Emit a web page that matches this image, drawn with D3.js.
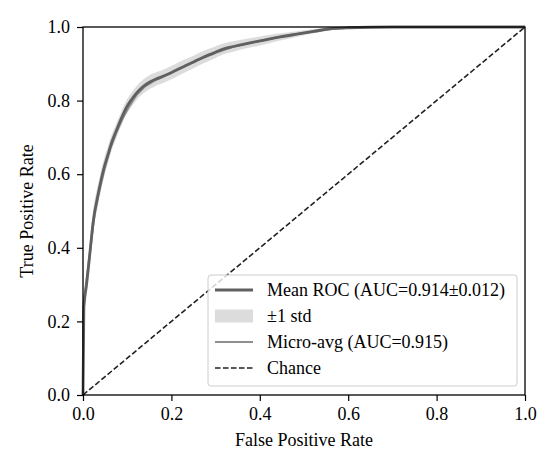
<!DOCTYPE html>
<html>
<head>
<meta charset="utf-8">
<script src="https://cdn.jsdelivr.net/npm/d3@7"></script>
<style>
  body { margin: 0; background: #fff; }
  text { font-family: "Liberation Serif", "DejaVu Serif", serif; }
</style>
</head>
<body>
<svg id="chart"></svg>
<script>
// mean ROC curve (averaged over folds)
var meanFpr = [0, 0.002, 0.008, 0.016, 0.023, 0.035, 0.046, 0.057, 0.066, 0.076, 0.088, 0.099, 0.11, 0.121, 0.136, 0.152, 0.17, 0.189, 0.208, 0.227, 0.25, 0.272, 0.295, 0.317, 0.34, 0.37, 0.4, 0.446, 0.48, 0.521, 0.566, 0.6, 0.7, 0.8, 0.9, 1.0];
var meanTpr = [0, 0.24, 0.30, 0.39, 0.47, 0.55, 0.61, 0.655, 0.69, 0.72, 0.755, 0.783, 0.803, 0.82, 0.838, 0.851, 0.861, 0.87, 0.881, 0.892, 0.905, 0.918, 0.929, 0.94, 0.947, 0.955, 0.962, 0.973, 0.98, 0.988, 0.996, 0.998, 1, 1, 1, 1];
var stdTpr  = [0, 0.035, 0.035, 0.035, 0.032, 0.028, 0.025, 0.023, 0.021, 0.02, 0.019, 0.019, 0.019, 0.019, 0.019, 0.019, 0.018, 0.018, 0.018, 0.018, 0.017, 0.017, 0.016, 0.015, 0.014, 0.013, 0.012, 0.01, 0.008, 0.006, 0.003, 0.002, 0, 0, 0, 0];

// micro-average ROC
var microFpr = [0, 0, 0.004, 0.01, 0.018, 0.026, 0.038, 0.05, 0.062, 0.076, 0.09, 0.105, 0.121, 0.14, 0.16, 0.189, 0.22, 0.26, 0.3, 0.34, 0.38, 0.44, 0.52, 0.57, 0.62, 0.7, 0.8, 0.9, 1];
var microTpr = [0, 0.22, 0.27, 0.33, 0.41, 0.49, 0.56, 0.62, 0.67, 0.715, 0.752, 0.785, 0.815, 0.838, 0.853, 0.869, 0.887, 0.91, 0.93, 0.946, 0.957, 0.972, 0.987, 0.995, 0.999, 1, 1, 1, 1];

var ticks = [0, 0.2, 0.4, 0.6, 0.8, 1.0];
var legendLabels = ["Mean ROC (AUC=0.914\u00b10.012)", "\u00b11 std", "Micro-avg (AUC=0.915)", "Chance"];

var W = 558, H = 472;
var m = {left: 83, right: 33, top: 27, bottom: 77};
var fontSize = "18px";

var svg = d3.select("#chart").attr("width", W).attr("height", H);

var x = d3.scaleLinear().domain([0, 1]).range([m.left, W - m.right]);
var y = d3.scaleLinear().domain([0, 1]).range([H - m.bottom, m.top]);

var meanPts = meanFpr.map((f, i) => ({f: f, t: meanTpr[i], s: stdTpr[i]}));
var microPts = microFpr.map((f, i) => ({f: f, t: microTpr[i]}));

var g = svg.append("g");

// std band
g.append("path")
    .datum(meanPts)
    .attr("fill", "#c4c4c4")
    .attr("fill-opacity", 0.6)
    .attr("d", d3.area()
        .x(d => x(d.f))
        .y0(d => y(Math.max(d.t - d.s, 0)))
        .y1(d => y(Math.min(d.t + d.s, 1)))
        .curve(d3.curveMonotoneX));

// micro-average
g.append("path")
    .datum(microPts)
    .attr("fill", "none")
    .attr("stroke", "#8f8f8f")
    .attr("stroke-width", 2)
    .attr("d", d3.line().x(d => x(d.f)).y(d => y(d.t)));

// mean
g.append("path")
    .datum(meanPts)
    .attr("fill", "none")
    .attr("stroke", "#606060")
    .attr("stroke-width", 2.8)
    .attr("d", d3.line().x(d => x(d.f)).y(d => y(d.t)).curve(d3.curveMonotoneX));

// chance
g.append("line")
    .attr("x1", x(0)).attr("y1", y(0))
    .attr("x2", x(1)).attr("y2", y(1))
    .attr("stroke", "#222")
    .attr("stroke-width", 1.6)
    .attr("stroke-dasharray", "5.5,2.5");

// axes
var fmt = d3.format(".1f");
var xAxis = svg.append("g")
    .attr("transform", "translate(0," + y(0) + ")")
    .call(d3.axisBottom(x).tickValues(ticks).tickFormat(fmt).tickSize(6).tickPadding(6));
var yAxis = svg.append("g")
    .attr("transform", "translate(" + x(0) + ",0)")
    .call(d3.axisLeft(y).tickValues(ticks).tickFormat(fmt).tickSize(6).tickPadding(7));

[xAxis, yAxis].forEach(a => {
    a.select(".domain").remove();
    a.selectAll(".tick line").attr("stroke", "#000").attr("stroke-width", 1.2);
    a.selectAll(".tick text")
        .attr("fill", "#000")
        .style("font-family", "'Liberation Serif', serif")
        .style("font-size", fontSize);
});

// frame
svg.append("rect")
    .attr("x", x(0)).attr("y", y(1))
    .attr("width", x(1) - x(0)).attr("height", y(0) - y(1))
    .attr("fill", "none")
    .attr("stroke", "#000")
    .attr("stroke-width", 1.3);

svg.append("text")
    .attr("x", (x(0) + x(1)) / 2)
    .attr("y", 446)
    .attr("text-anchor", "middle")
    .style("font-size", fontSize)
    .text("False Positive Rate");

svg.append("text")
    .attr("transform", "translate(33," + ((y(0) + y(1)) / 2) + ") rotate(-90)")
    .attr("text-anchor", "middle")
    .style("font-size", fontSize)
    .text("True Positive Rate");

// legend
var lg = svg.append("g");
lg.append("rect")
    .attr("x", 208).attr("y", 275)
    .attr("width", 309).attr("height", 111)
    .attr("rx", 3)
    .attr("fill", "#fff")
    .attr("fill-opacity", 0.8)
    .attr("stroke", "#cccccc")
    .attr("stroke-width", 1);

var rowY = [290, 316, 342, 368];
// handles
lg.append("line").attr("x1", 215).attr("x2", 253).attr("y1", rowY[0]).attr("y2", rowY[0])
    .attr("stroke", "#606060").attr("stroke-width", 3.2);
lg.append("rect").attr("x", 215).attr("y", rowY[1] - 6.5).attr("width", 38).attr("height", 13)
    .attr("fill", "#c4c4c4").attr("fill-opacity", 0.6);
lg.append("line").attr("x1", 215).attr("x2", 253).attr("y1", rowY[2]).attr("y2", rowY[2])
    .attr("stroke", "#8f8f8f").attr("stroke-width", 2);
lg.append("line").attr("x1", 215).attr("x2", 253).attr("y1", rowY[3]).attr("y2", rowY[3])
    .attr("stroke", "#222").attr("stroke-width", 1.6).attr("stroke-dasharray", "5.5,2.5");

lg.selectAll("text.lbl")
    .data(legendLabels)
    .enter().append("text")
    .attr("class", "lbl")
    .attr("x", 267)
    .attr("y", (d, i) => rowY[i] + 6)
    .style("font-size", fontSize)
    .text(d => d);
</script>
</body>
</html>
